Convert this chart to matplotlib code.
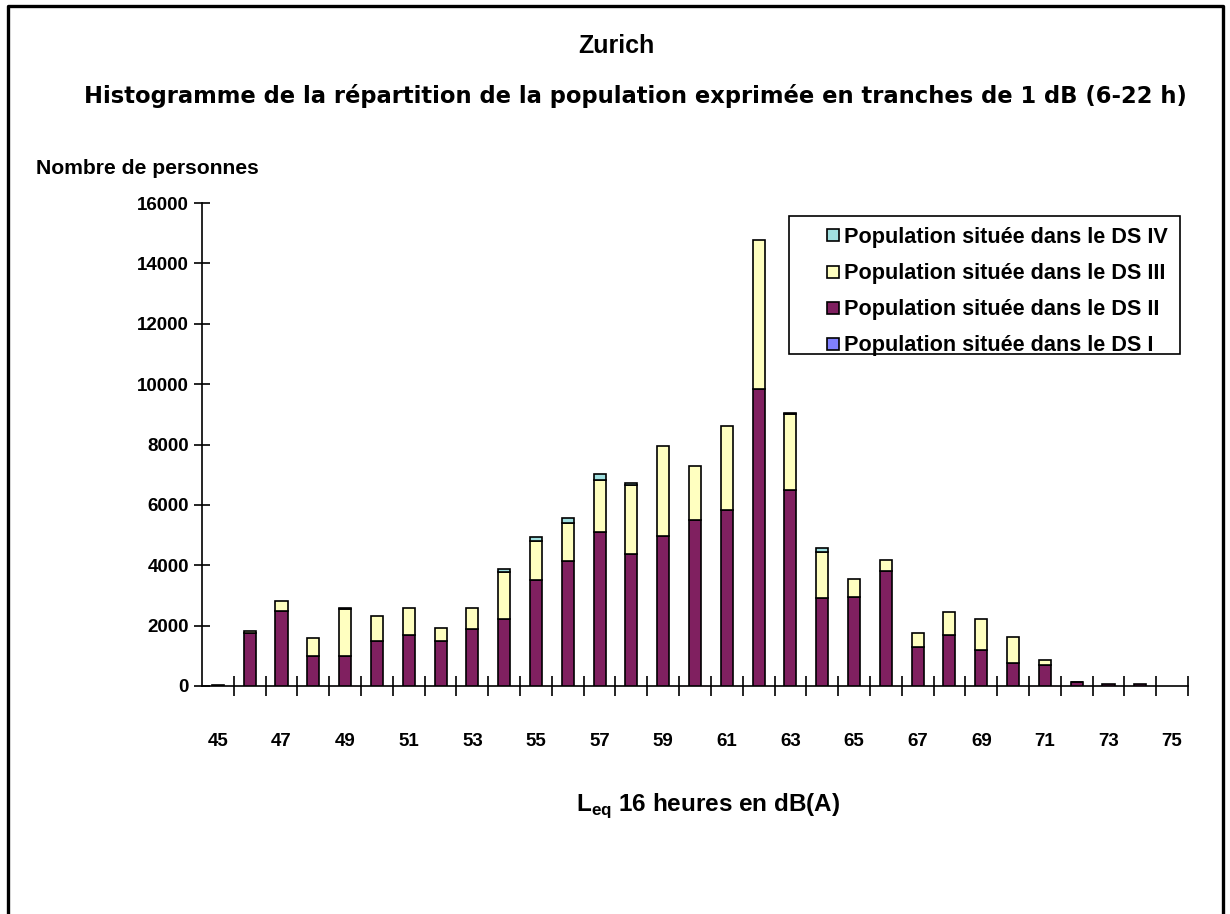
import numpy as np
import matplotlib
matplotlib.use("Agg")
import matplotlib.pyplot as plt
from matplotlib.lines import Line2D
from matplotlib.patches import Rectangle

plt.rcParams['font.family'] = ['Liberation Sans', 'DejaVu Sans']
plt.rcParams['font.weight'] = 'bold'
plt.rcParams['mathtext.fontset'] = 'custom'
plt.rcParams['mathtext.bf'] = 'Liberation Sans:bold'
plt.rcParams['mathtext.rm'] = 'Liberation Sans:bold'

# classes de bruit (dB) et population par degré de sensibilité
niveaux = list(range(45, 76))
ds1 = [0] * 31
ds2 = [40, 1760, 2500, 980, 980, 1500, 1700, 1500, 1900, 2230, 3500, 4150, 5100, 4370, 4970,
       5500, 5820, 9830, 6500, 2900, 2960, 3820, 1300, 1700, 1180, 770, 710, 120, 60, 60, 0]
ds3 = [0, 60, 330, 620, 1580, 820, 880, 420, 680, 1530, 1300, 1250, 1720, 2300, 2980,
       1800, 2800, 4930, 2500, 1530, 600, 340, 470, 740, 1050, 860, 140, 20, 0, 0, 0]
ds4 = [0, 0, 0, 0, 40, 0, 0, 0, 0, 130, 130, 150, 200, 60, 0,
       0, 0, 0, 60, 140, 0, 0, 0, 0, 0, 0, 0, 0, 0, 0, 0]

series = [
    ("Population située dans le DS I", ds1, "#8080FF"),
    ("Population située dans le DS II", ds2, "#802060"),
    ("Population située dans le DS III", ds3, "#FFFFC0"),
    ("Population située dans le DS IV", ds4, "#A0E0E0"),
]

W, H = 1230, 914
fig = plt.figure(figsize=(W / 100, H / 100), dpi=100)


def px(x, y):
    return x / W, 1 - y / H


# cadre autour du graphique (sans bord inférieur)
fig.add_artist(Line2D([8 / W, 8 / W, 1223 / W, 1223 / W], [0, 1 - 5.5 / H, 1 - 5.5 / H, 0],
                      transform=fig.transFigure, color="black", lw=2.4))

ax = fig.add_axes([202 / W, 1 - 686 / H, 986 / W, 483 / H])

x = np.arange(len(niveaux))
bottom = np.zeros(len(niveaux))
for label, vals, color in series:
    vals = np.array(vals, dtype=float)
    m = vals > 0
    ax.bar(x[m], vals[m], bottom=bottom[m], width=0.38, color=color,
           edgecolor="black", linewidth=1.2, zorder=3)
    bottom += vals

ax.set_xlim(-0.5, len(niveaux) - 0.5)
ax.set_ylim(0, 16000)
ax.spines[["top", "right"]].set_visible(False)
for s in ["left", "bottom"]:
    ax.spines[s].set_linewidth(1.2)

ax.set_yticks(np.arange(0, 16001, 2000))
ax.tick_params(axis="y", direction="inout", length=11, width=1.2, pad=4, labelsize=13.5)

ax.set_xticks(x[::2])
ax.set_xticklabels([str(n) for n in niveaux[::2]])
ax.set_xticks(np.arange(0.5, len(niveaux) - 0.4, 1), minor=True)
ax.tick_params(axis="x", which="major", length=0, pad=34, labelsize=13.5)
ax.tick_params(axis="x", which="minor", direction="inout", length=14, width=1.2)

fig.text(*px(616, 46), "Zurich", fontsize=18, ha="center", va="center")
fig.text(*px(635, 96), "Histogramme de la répartition de la population exprimée en tranches de 1 dB (6-22 h)",
         fontsize=16.3, ha="center", va="center", family=["DejaVu Sans"], fontweight="bold")
fig.text(*px(36, 168), "Nombre de personnes", fontsize=15.2, ha="left", va="center")
fig.text(*px(708, 806), r"L$_{\mathbf{eq}}$ 16 heures en dB(A)", fontsize=17.5, ha="center", va="center")

# légende
fig.add_artist(Rectangle(px(789, 354), 391 / W, 138 / H, transform=fig.transFigure,
                         fill=False, edgecolor="black", lw=1.2))
handles = [Line2D([], [], marker="s", linestyle="none", markersize=9, markerfacecolor=c,
                  markeredgecolor="black", markeredgewidth=1.2, label=l)
           for l, _, c in series[::-1]]
fig.legend(handles=handles, loc="upper left", bbox_to_anchor=px(826, 227), frameon=False,
           fontsize=15.6, handlelength=0.6, handletextpad=0.25, labelspacing=0.7,
           borderaxespad=0, borderpad=0)

fig.savefig("out.png", dpi=100)
